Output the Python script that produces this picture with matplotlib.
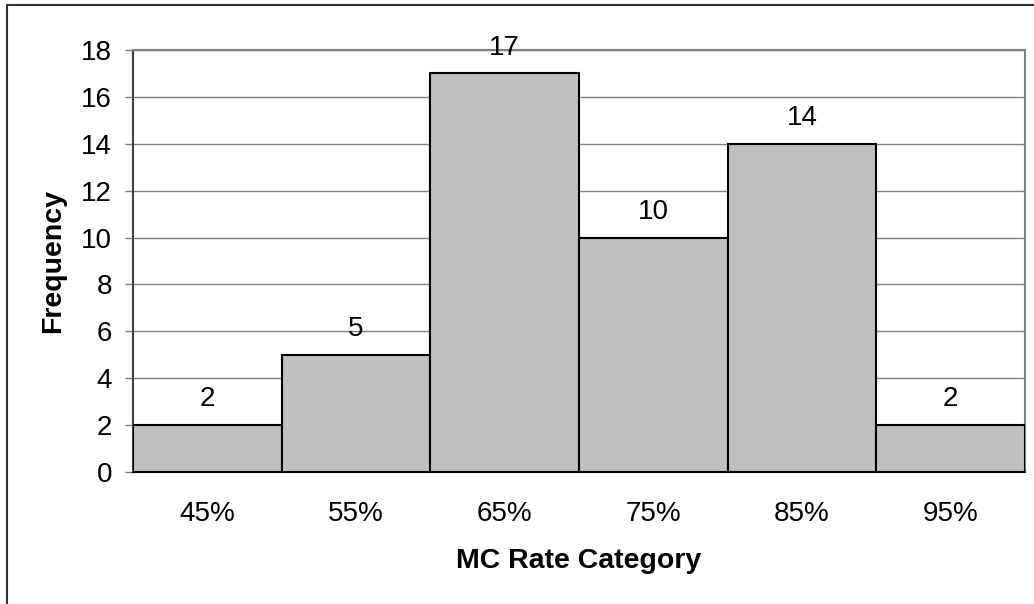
# -*- coding: utf-8 -*-
# MC rate histogram
from matplotlib import pyplot as plt
from matplotlib.patches import Rectangle

categories = ['45%', '55%', '65%', '75%', '85%', '95%']
frequency = [2, 5, 17, 10, 14, 2]
y_ticks = [0, 2, 4, 6, 8, 10, 12, 14, 16, 18]

plt.rcParams['font.family'] = ['Liberation Sans', 'DejaVu Sans']

fig = plt.figure(figsize=(10.34, 6.04), dpi=100)
ax = fig.add_axes([133 / 1034, 132 / 604, 892 / 1034, 422 / 604])

x = list(range(len(categories)))
bars = ax.bar(x, frequency, width=1.0, color='#c0c0c0', edgecolor='black',
              linewidth=1.5, zorder=3)

# value above each bar
for xi, v in zip(x, frequency):
    ax.annotate(str(v), (xi, v), xytext=(0, 13.5), textcoords='offset points',
                ha='center', va='baseline', fontsize=20, zorder=4,
                annotation_clip=False)

ax.set_xlim(-0.5, len(categories) - 0.5)
ax.set_ylim(0, 18)
ax.set_yticks(y_ticks)
ax.set_xticks(x)
ax.set_xticklabels(categories)
ax.yaxis.grid(True, color='#808080', linewidth=1.0, zorder=0)
ax.set_axisbelow(True)

ax.tick_params(axis='y', length=6, width=1.0, color='#808080', pad=9,
               labelsize=20)
ax.tick_params(axis='x', length=0, pad=21, labelsize=20)

ax.spines['left'].set_color('#404040')
ax.spines['left'].set_linewidth(1.5)
ax.spines['bottom'].set_color('black')
ax.spines['bottom'].set_linewidth(1.5)
for s in ['top', 'right']:
    ax.spines[s].set_color('#808080')
    ax.spines[s].set_linewidth(1.5)

ax.set_ylabel('Frequency', fontsize=20.5, fontweight='bold')
ax.yaxis.set_label_coords(-80 / 892, 0.5)
ax.yaxis.label.set_va('center')
ax.set_xlabel('MC Rate Category', fontsize=20.5, fontweight='bold')
ax.xaxis.set_label_coords(0.5, -89 / 422)
ax.xaxis.label.set_va('center')

# chart border (cut off at right and bottom)
fig.add_artist(Rectangle((7 / 1034, -0.1), 1.2, 1.1 - 5 / 604,
                         transform=fig.transFigure, fill=False,
                         edgecolor='#333333', linewidth=1.5))

fig.savefig('out.png', dpi=100)
